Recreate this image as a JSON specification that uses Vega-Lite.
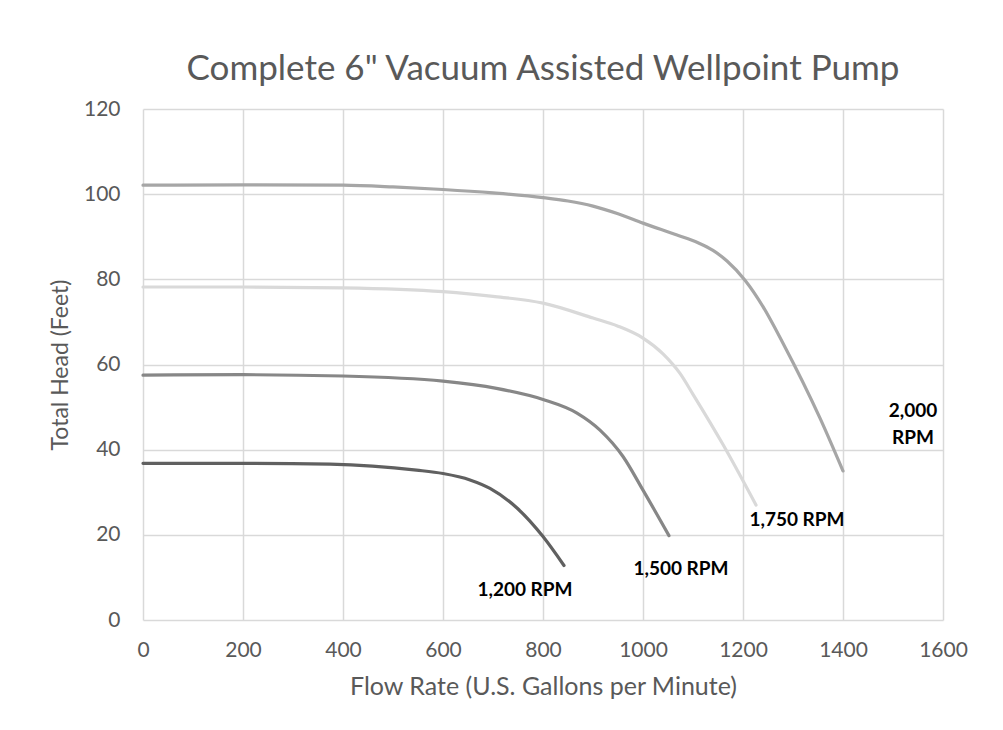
{
  "$schema": "https://vega.github.io/schema/vega-lite/v6.json",
  "autosize": {"type": "none"},
  "width": 800,
  "height": 511,
  "padding": {"left": 143, "top": 109, "right": 60, "bottom": 110},
  "background": "white",
  "title": {
    "text": "Complete 6\" Vacuum Assisted Wellpoint Pump",
    "font": "Lato",
    "fontSize": 35,
    "fontWeight": "normal",
    "color": "#595959",
    "anchor": "middle",
    "baseline": "alphabetic",
    "offset": -17
  },
  "config": {
    "view": {"stroke": null},
    "axis": {
      "labelFont": "Lato",
      "titleFont": "Lato",
      "labelColor": "#595959",
      "titleColor": "#595959",
      "labelFontSize": 21,
      "titleFontSize": 23,
      "titleFontWeight": "normal",
      "gridColor": "#d9d9d9",
      "gridWidth": 1.5,
      "ticks": false,
      "domain": false,
      "labelFlush": false
    }
  },
  "datasets": {
    "curves": [
      {"rpm": "2,000 RPM", "flow": 0, "head": 102.1},
      {"rpm": "2,000 RPM", "flow": 200, "head": 102.2},
      {"rpm": "2,000 RPM", "flow": 400, "head": 102.1},
      {"rpm": "2,000 RPM", "flow": 500, "head": 101.7},
      {"rpm": "2,000 RPM", "flow": 600, "head": 101.1},
      {"rpm": "2,000 RPM", "flow": 700, "head": 100.3},
      {"rpm": "2,000 RPM", "flow": 800, "head": 99.2},
      {"rpm": "2,000 RPM", "flow": 850, "head": 98.4},
      {"rpm": "2,000 RPM", "flow": 900, "head": 97.2},
      {"rpm": "2,000 RPM", "flow": 950, "head": 95.4},
      {"rpm": "2,000 RPM", "flow": 1000, "head": 93.2},
      {"rpm": "2,000 RPM", "flow": 1068, "head": 90.4},
      {"rpm": "2,000 RPM", "flow": 1110, "head": 88.6},
      {"rpm": "2,000 RPM", "flow": 1140, "head": 86.8},
      {"rpm": "2,000 RPM", "flow": 1168, "head": 84.3},
      {"rpm": "2,000 RPM", "flow": 1204, "head": 79.8},
      {"rpm": "2,000 RPM", "flow": 1240, "head": 73.6},
      {"rpm": "2,000 RPM", "flow": 1280, "head": 65.0},
      {"rpm": "2,000 RPM", "flow": 1354, "head": 47.4},
      {"rpm": "2,000 RPM", "flow": 1400, "head": 35.0},
      {"rpm": "1,750 RPM", "flow": 0, "head": 78.2},
      {"rpm": "1,750 RPM", "flow": 200, "head": 78.2},
      {"rpm": "1,750 RPM", "flow": 400, "head": 78.0},
      {"rpm": "1,750 RPM", "flow": 600, "head": 77.1},
      {"rpm": "1,750 RPM", "flow": 700, "head": 76.0},
      {"rpm": "1,750 RPM", "flow": 800, "head": 74.4},
      {"rpm": "1,750 RPM", "flow": 900, "head": 70.9},
      {"rpm": "1,750 RPM", "flow": 950, "head": 69.0},
      {"rpm": "1,750 RPM", "flow": 1000, "head": 66.2},
      {"rpm": "1,750 RPM", "flow": 1040, "head": 62.5},
      {"rpm": "1,750 RPM", "flow": 1074, "head": 57.9},
      {"rpm": "1,750 RPM", "flow": 1100, "head": 53.0},
      {"rpm": "1,750 RPM", "flow": 1160, "head": 41.2},
      {"rpm": "1,750 RPM", "flow": 1226, "head": 27.0},
      {"rpm": "1,500 RPM", "flow": 0, "head": 57.5},
      {"rpm": "1,500 RPM", "flow": 200, "head": 57.6},
      {"rpm": "1,500 RPM", "flow": 400, "head": 57.3},
      {"rpm": "1,500 RPM", "flow": 600, "head": 56.1},
      {"rpm": "1,500 RPM", "flow": 707, "head": 54.4},
      {"rpm": "1,500 RPM", "flow": 800, "head": 51.8},
      {"rpm": "1,500 RPM", "flow": 868, "head": 48.6},
      {"rpm": "1,500 RPM", "flow": 914, "head": 44.6},
      {"rpm": "1,500 RPM", "flow": 960, "head": 38.4},
      {"rpm": "1,500 RPM", "flow": 1000, "head": 30.5},
      {"rpm": "1,500 RPM", "flow": 1052, "head": 19.8},
      {"rpm": "1,200 RPM", "flow": 0, "head": 36.8},
      {"rpm": "1,200 RPM", "flow": 200, "head": 36.8},
      {"rpm": "1,200 RPM", "flow": 374, "head": 36.6},
      {"rpm": "1,200 RPM", "flow": 547, "head": 35.2},
      {"rpm": "1,200 RPM", "flow": 600, "head": 34.4},
      {"rpm": "1,200 RPM", "flow": 654, "head": 32.9},
      {"rpm": "1,200 RPM", "flow": 694, "head": 30.9},
      {"rpm": "1,200 RPM", "flow": 748, "head": 26.3},
      {"rpm": "1,200 RPM", "flow": 800, "head": 19.6},
      {"rpm": "1,200 RPM", "flow": 842, "head": 12.8}
    ],
    "labels": [
      {"rpm": "2,000 RPM", "text": "2,000\nRPM", "flow": 1540, "head": 49},
      {"rpm": "1,750 RPM", "text": "1,750 RPM", "flow": 1308, "head": 23.5},
      {"rpm": "1,500 RPM", "text": "1,500 RPM", "flow": 1076, "head": 12},
      {"rpm": "1,200 RPM", "text": "1,200 RPM", "flow": 764, "head": 7}
    ]
  },
  "layer": [
    {
      "data": {"name": "curves"},
      "mark": {"type": "line", "interpolate": "monotone", "strokeWidth": 3.2, "strokeCap": "round"},
      "encoding": {
        "x": {
          "field": "flow", "type": "quantitative",
          "scale": {"domain": [0, 1600], "nice": false},
          "axis": {"values": [0, 200, 400, 600, 800, 1000, 1200, 1400, 1600], "format": "d", "labelPadding": 19, "title": "Flow Rate (U.S. Gallons per Minute)", "titleFontSize": 25, "titlePadding": 14}
        },
        "y": {
          "field": "head", "type": "quantitative",
          "scale": {"domain": [0, 120], "nice": false},
          "axis": {"values": [0, 20, 40, 60, 80, 100, 120], "format": "d", "labelPadding": 23, "title": "Total Head (Feet)", "titlePadding": 11}
        },
        "color": {
          "field": "rpm", "type": "nominal",
          "scale": {"domain": ["2,000 RPM", "1,750 RPM", "1,500 RPM", "1,200 RPM"], "range": ["#a6a6a6", "#d9d9d9", "#878787", "#606060"]},
          "legend": null
        },
        "detail": {"field": "rpm"}
      }
    },
    {
      "data": {"name": "labels"},
      "mark": {"type": "text", "font": "Lato", "fontWeight": "bold", "fontSize": 19, "color": "black", "align": "center", "baseline": "middle", "lineBreak": "\n", "lineHeight": 27},
      "encoding": {
        "x": {"field": "flow", "type": "quantitative"},
        "y": {"field": "head", "type": "quantitative"},
        "text": {"field": "text"}
      }
    }
  ]
}
